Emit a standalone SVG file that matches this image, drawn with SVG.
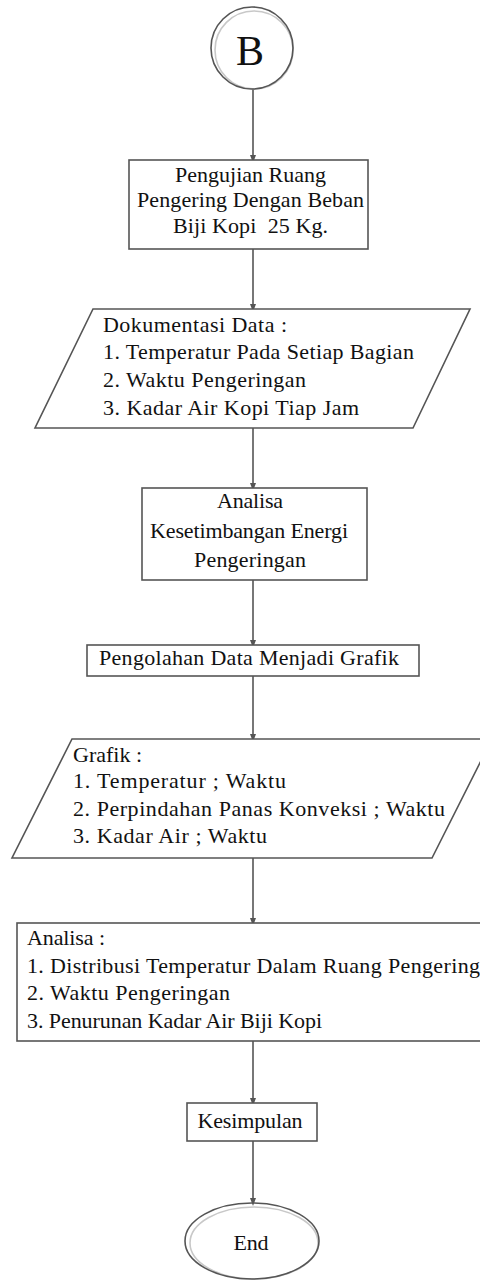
<svg xmlns="http://www.w3.org/2000/svg" width="480" height="1280" viewBox="0 0 480 1280">
<style>
.s{fill:#fff;stroke:#555;stroke-width:1.6}
.sh{fill:none;stroke:#c8c8c8;stroke-width:1.6}
.t{font-family:"Liberation Serif","Times New Roman",serif;font-size:22px;fill:#111}
.c{text-anchor:middle}
.e{stroke:#555;stroke-width:1.6;fill:none}
</style>
<defs>
<marker id="ah" markerWidth="8" markerHeight="8" refX="4" refY="4" orient="auto" markerUnits="userSpaceOnUse">
<path d="M0,1 L8,4 L0,7 Z" fill="#555"/>
</marker>
</defs>
<rect width="480" height="1280" fill="#fff"/>
<g id="connectors">
<line class="e" x1="253" y1="89" x2="253" y2="159" marker-end="url(#ah)"/>
<line class="e" x1="253" y1="249" x2="253" y2="308" marker-end="url(#ah)"/>
<line class="e" x1="253" y1="428" x2="253" y2="487" marker-end="url(#ah)"/>
<line class="e" x1="253" y1="580" x2="253" y2="644" marker-end="url(#ah)"/>
<line class="e" x1="253" y1="676" x2="253" y2="738" marker-end="url(#ah)"/>
<line class="e" x1="253" y1="858" x2="253" y2="922" marker-end="url(#ah)"/>
<line class="e" x1="253" y1="1041" x2="253" y2="1102" marker-end="url(#ah)"/>
<line class="e" x1="253" y1="1141" x2="253" y2="1202" marker-end="url(#ah)"/>
</g>
<g id="start">
<circle class="sh" cx="254" cy="50" r="39"/>
<circle cx="252" cy="48" r="41" fill="none" stroke="#555" stroke-width="1.6"/>
<text class="t c" x="250" y="65" style="font-size:42px">B</text>
</g>
<g id="pengujian">
<rect class="s" x="129" y="160" width="239" height="89"/>
<text class="t c" x="250.5" y="182" textLength="151" lengthAdjust="spacing">Pengujian Ruang</text>
<text class="t c" x="250.5" y="207" textLength="227" lengthAdjust="spacing">Pengering Dengan Beban</text>
<text class="t c" x="250.5" y="233" textLength="155" lengthAdjust="spacing" xml:space="preserve">Biji Kopi  25 Kg.</text>
</g>
<g id="dokumentasi">
<polygon class="s" points="93,309 470,309 413,428 35,428"/>
<text class="t" x="103" y="332" textLength="184" lengthAdjust="spacing">Dokumentasi Data :</text>
<text class="t" x="103" y="359" textLength="311" lengthAdjust="spacing">1. Temperatur Pada Setiap Bagian</text>
<text class="t" x="103" y="387" textLength="203" lengthAdjust="spacing">2. Waktu Pengeringan</text>
<text class="t" x="103" y="415" textLength="256" lengthAdjust="spacing">3. Kadar Air Kopi Tiap Jam</text>
</g>
<g id="analisa-energi">
<rect class="s" x="142" y="488" width="225" height="92"/>
<text class="t c" x="250" y="508" textLength="66" lengthAdjust="spacing">Analisa</text>
<text class="t c" x="249" y="538" textLength="198" lengthAdjust="spacing">Kesetimbangan Energi</text>
<text class="t c" x="250" y="567" textLength="112" lengthAdjust="spacing">Pengeringan</text>
</g>
<g id="pengolahan">
<rect class="s" x="87" y="645" width="332" height="31"/>
<text class="t c" x="249" y="665" textLength="300" lengthAdjust="spacing">Pengolahan Data Menjadi Grafik</text>
</g>
<g id="grafik">
<polygon class="s" points="72,739 492,739 432,858 12,858"/>
<text class="t" x="73" y="762" textLength="69" lengthAdjust="spacing">Grafik :</text>
<text class="t" x="73" y="788" textLength="213" lengthAdjust="spacing">1. Temperatur ; Waktu</text>
<text class="t" x="73" y="816" textLength="372" lengthAdjust="spacing">2. Perpindahan Panas Konveksi ; Waktu</text>
<text class="t" x="73" y="843" textLength="194" lengthAdjust="spacing">3. Kadar Air ; Waktu</text>
</g>
<g id="analisa">
<rect class="s" x="17" y="923" width="480" height="118"/>
<text class="t" x="27" y="945" textLength="78" lengthAdjust="spacing">Analisa :</text>
<text class="t" x="27" y="973" textLength="453" lengthAdjust="spacing">1. Distribusi Temperatur Dalam Ruang Pengering</text>
<text class="t" x="27" y="1000" textLength="203" lengthAdjust="spacing">2. Waktu Pengeringan</text>
<text class="t" x="27" y="1028" textLength="295" lengthAdjust="spacing">3. Penurunan Kadar Air Biji Kopi</text>
</g>
<g id="kesimpulan">
<rect class="s" x="187" y="1103" width="130" height="38"/>
<text class="t c" x="250" y="1128" textLength="105" lengthAdjust="spacing">Kesimpulan</text>
</g>
<g id="end">
<ellipse class="sh" cx="254" cy="1243" rx="64" ry="36"/>
<ellipse cx="252" cy="1241" rx="67" ry="38" fill="none" stroke="#555" stroke-width="1.6"/>
<text class="t c" x="251" y="1250" textLength="35" lengthAdjust="spacing">End</text>
</g>
</svg>
